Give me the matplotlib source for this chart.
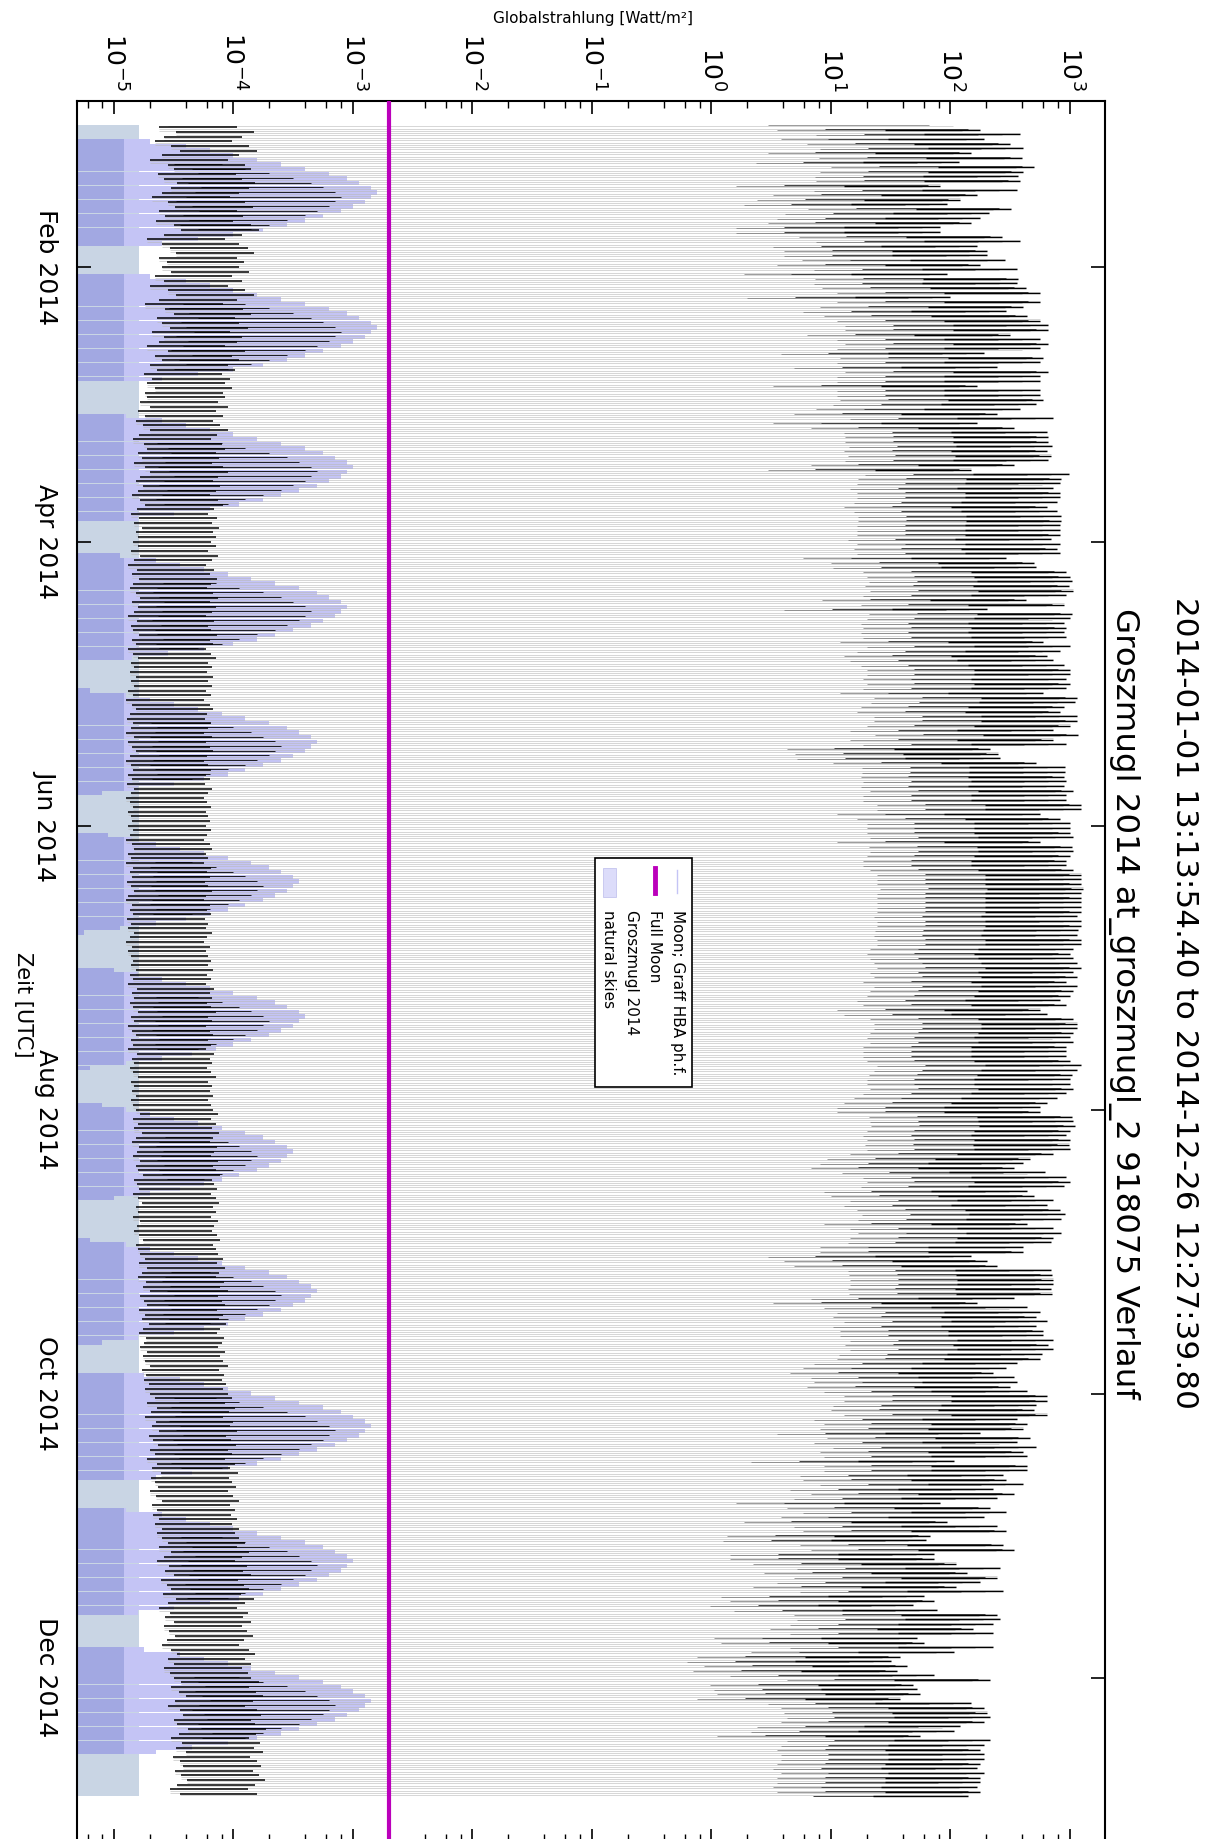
import numpy as np
import pandas as pd
import matplotlib
matplotlib.use("Agg")
import matplotlib.pyplot as plt
import matplotlib.dates as mdates
from matplotlib.collections import LineCollection, PolyCollection
from matplotlib.patches import Rectangle
from matplotlib.lines import Line2D
from matplotlib.ticker import FixedLocator, LogFormatterSciNotation, NullFormatter

# ---- texts -------------------------------------------------------------
title = "Groszmugl 2014 at_groszmugl_2 918075 Verlauf"
subtitle = "2014-01-01 13:13:54.40 to 2014-12-26 12:27:39.80"
x_label = "Globalstrahlung [Watt/m²]"
y_label = "Zeit [UTC]"
legend_labels = ["Moon; Graff HBA ph.f.", "Full Moon", "Groszmugl 2014", "natural skies"]

# ---- data --------------------------------------------------------------
days = pd.date_range("2014-01-01", periods=360, freq="D")
first_sample = pd.Timestamp("2014-01-01 13:13:54.40")
last_sample = pd.Timestamp("2014-12-26 12:27:39.80")

# daily maximum of global radiation, log10(W/m²)
peak_log = [
    2.17, 2.25, 2.58, 2.28, 2.50, 2.61, 2.17, 2.60, 2.07, 2.70,
    2.61, 2.57, 2.58, 1.91, 2.56, 2.22, 2.08, 1.97, 2.51, 2.32,
    2.25, 2.17, 1.91, 1.91, 2.43, 2.58, 2.22, 2.31, 2.31, 2.46,
    2.25, 2.56, 1.97, 2.57, 2.56, 2.63, 2.75, 2.00, 2.75, 2.61,
    2.47, 2.64, 2.75, 2.82, 2.82, 2.50, 2.75, 2.82, 2.75, 2.28,
    2.78, 2.75, 2.39, 2.82, 2.75, 2.75, 2.22, 2.75, 2.75, 2.78,
    2.72, 2.58, 2.39, 2.86, 2.22, 2.53, 2.81, 2.82, 2.82, 2.85,
    2.81, 2.84, 2.82, 2.53, 2.17, 2.99, 2.93, 2.92, 2.86, 2.92,
    2.92, 2.89, 2.81, 2.89, 2.93, 2.93, 2.92, 2.92, 2.92, 2.84,
    2.92, 2.89, 2.92, 2.47, 2.70, 2.72, 2.97, 3.00, 3.02, 2.99,
    3.03, 2.97, 2.63, 2.95, 2.31, 3.02, 3.00, 2.95, 2.97, 2.95,
    2.97, 2.78, 3.00, 2.92, 2.81, 2.86, 2.95, 3.00, 3.00, 2.97,
    3.00, 2.97, 2.78, 3.06, 3.04, 2.95, 2.92, 3.06, 3.06, 3.00,
    2.86, 3.07, 2.86, 2.97, 2.33, 2.40, 2.42, 2.72, 2.96, 2.96,
    2.95, 2.97, 2.95, 3.03, 2.97, 2.97, 3.09, 3.09, 2.75, 2.92,
    3.00, 3.00, 3.00, 3.03, 2.75, 3.02, 3.03, 3.00, 2.97, 2.97,
    3.03, 3.09, 3.09, 3.09, 3.11, 3.09, 3.09, 3.09, 3.09, 3.09,
    3.06, 3.09, 3.09, 3.07, 3.06, 3.09, 3.09, 3.03, 3.00, 3.03,
    3.06, 3.09, 3.03, 3.06, 2.97, 3.06, 3.03, 3.00, 2.92, 2.97,
    2.75, 2.81, 3.03, 3.06, 3.06, 3.03, 3.00, 3.03, 2.97, 2.97,
    2.97, 3.00, 3.09, 3.06, 3.02, 3.00, 3.00, 3.03, 2.97, 2.89,
    2.81, 2.75, 2.75, 3.02, 3.03, 3.04, 3.00, 2.97, 3.00, 2.99,
    3.00, 2.86, 2.67, 2.61, 2.53, 2.79, 2.97, 3.00, 2.95, 2.64,
    2.70, 2.86, 2.81, 2.92, 2.96, 2.93, 2.64, 2.86, 2.93, 2.86,
    2.84, 2.61, 2.61, 2.17, 2.31, 2.39, 2.84, 2.85, 2.86, 2.86,
    2.84, 2.85, 2.53, 2.22, 2.64, 2.75, 2.72, 2.81, 2.72, 2.78,
    2.78, 2.86, 2.82, 2.86, 2.77, 2.75, 2.56, 2.47, 2.36, 2.53,
    2.56, 2.50, 2.64, 2.81, 2.81, 2.72, 2.70, 2.81, 2.56, 2.64,
    2.61, 2.25, 2.67, 2.56, 2.72, 2.61, 2.64, 2.03, 2.64, 2.64,
    2.44, 2.47, 2.61, 2.36, 2.53, 2.39, 1.91, 2.33, 2.47, 2.28,
    1.97, 2.39, 2.47, 1.83, 1.80, 2.44, 2.53, 1.86, 1.86, 2.05,
    2.42, 2.14, 2.39, 2.25, 2.05, 2.44, 1.78, 1.86, 1.69, 1.89,
    2.39, 2.42, 2.36, 2.19, 2.36, 1.72, 1.78, 2.36, 2.03, 1.58,
    1.50, 1.64, 1.55, 1.86, 2.33, 1.69, 1.72, 1.75, 1.58, 2.17,
    2.28, 2.31, 2.33, 2.28, 2.08, 2.03, 1.75, 2.33, 2.28, 2.25,
    2.28, 2.28, 2.25, 2.22, 2.28, 2.25, 2.25, 2.22, 2.25, 2.15,
]

# night-time minimum of the sensor, log10(W/m²)
night_log = [
    # Jan
    -4.55, -4.62, -4.48, -4.58, -4.66, -4.52, -4.45, -4.60, -4.70, -4.55,
    -4.50, -4.63, -4.58, -4.47, -4.52, -4.60, -4.68, -4.55, -4.49, -4.62,
    -4.57, -4.65, -4.50, -4.44, -4.58, -4.72, -4.60, -4.53, -4.48, -4.62,
    -4.56,
    # Feb
    -4.60, -4.52, -4.66, -4.58, -4.70, -4.55, -4.48, -4.62, -4.74, -4.57,
    -4.50, -4.64, -4.60, -4.53, -4.68, -4.58, -4.62, -4.72, -4.55, -4.66,
    -4.60, -4.70, -4.64, -4.75, -4.68, -4.72, -4.66, -4.74,
    # Mar
    -4.72, -4.78, -4.70, -4.80, -4.74, -4.82, -4.76, -4.70, -4.79, -4.84,
    -4.75, -4.72, -4.80, -4.77, -4.83, -4.74, -4.70, -4.78, -4.82, -4.76,
    -4.80, -4.85, -4.78, -4.74, -4.81, -4.86, -4.79, -4.83, -4.77, -4.82,
    -4.80,
    # Apr
    -4.84, -4.80, -4.86, -4.78, -4.83, -4.88, -4.81, -4.85, -4.79, -4.84,
    -4.87, -4.82, -4.78, -4.85, -4.80, -4.83, -4.88, -4.81, -4.86, -4.84,
    -4.79, -4.85, -4.82, -4.88, -4.84, -4.80, -4.86, -4.83, -4.87, -4.82,
    # May
    -4.86, -4.83, -4.88, -4.84, -4.90, -4.85, -4.82, -4.87, -4.89, -4.84,
    -4.86, -4.90, -4.83, -4.88, -4.85, -4.82, -4.87, -4.90, -4.86, -4.84,
    -4.88, -4.85, -4.89, -4.83, -4.86, -4.90, -4.87, -4.84, -4.88, -4.86,
    -4.85,
    # Jun
    -4.88, -4.84, -4.87, -4.90, -4.85, -4.83, -4.88, -4.86, -4.90, -4.84,
    -4.87, -4.85, -4.89, -4.86, -4.83, -4.88, -4.90, -4.85, -4.87, -4.84,
    -4.89, -4.86, -4.88, -4.83, -4.87, -4.90, -4.85, -4.88, -4.86, -4.84,
    # Jul
    -4.86, -4.82, -4.87, -4.84, -4.88, -4.81, -4.85, -4.83, -4.87, -4.84,
    -4.80, -4.86, -4.83, -4.88, -4.85, -4.82, -4.86, -4.84, -4.88, -4.81,
    -4.85, -4.83, -4.87, -4.84, -4.80, -4.86, -4.83, -4.85, -4.82, -4.86,
    -4.84,
    # Aug
    -4.82, -4.78, -4.84, -4.80, -4.83, -4.77, -4.82, -4.85, -4.79, -4.81,
    -4.84, -4.78, -4.82, -4.80, -4.76, -4.83, -4.81, -4.79, -4.84, -4.80,
    -4.77, -4.82, -4.80, -4.84, -4.78, -4.81, -4.83, -4.79, -4.76, -4.82,
    -4.80,
    # Sep
    -4.78, -4.74, -4.79, -4.72, -4.77, -4.80, -4.73, -4.76, -4.70, -4.78,
    -4.75, -4.72, -4.79, -4.74, -4.77, -4.71, -4.76, -4.79, -4.73, -4.75,
    -4.78, -4.72, -4.76, -4.74, -4.70, -4.77, -4.73, -4.75, -4.71, -4.74,
    # Oct
    -4.70, -4.66, -4.72, -4.64, -4.69, -4.74, -4.65, -4.68, -4.62, -4.71,
    -4.67, -4.63, -4.70, -4.66, -4.72, -4.64, -4.68, -4.61, -4.69, -4.66,
    -4.63, -4.70, -4.65, -4.60, -4.68, -4.64, -4.67, -4.62, -4.66, -4.60,
    -4.64,
    # Nov
    -4.60, -4.55, -4.62, -4.52, -4.58, -4.64, -4.54, -4.57, -4.50, -4.61,
    -4.56, -4.52, -4.59, -4.48, -4.55, -4.62, -4.53, -4.57, -4.50, -4.58,
    -4.54, -4.49, -4.56, -4.60, -4.52, -4.47, -4.55, -4.50, -4.58, -4.53,
    # Dec
    -4.50, -4.44, -4.52, -4.46, -4.40, -4.49, -4.55, -4.45, -4.42, -4.50,
    -4.47, -4.38, -4.46, -4.52, -4.43, -4.48, -4.40, -4.51, -4.45, -4.42,
    -4.49, -4.44, -4.39, -4.47, -4.53, -4.45,
]

# nightly maximum of the modelled moon irradiance, log10(W/m²)
moon_log = [
    None, None, None, None, -4.70, -4.40, -4.20, -4.00, -3.80, -3.60,
    -3.40, -3.20, -3.05, -2.95, -2.85, -2.80, -2.85, -2.90, -3.00, -3.10,
    -3.25, -3.40, -3.55, -3.75, -4.00, -4.30, -4.60, None, None, None,
    None, None, None, -4.70, -4.40, -4.20, -4.00, -3.80, -3.60, -3.40,
    -3.20, -3.05, -2.95, -2.85, -2.80, -2.85, -2.90, -3.00, -3.10, -3.25,
    -3.40, -3.55, -3.75, -4.00, -4.30, -4.60, None, None, None, None,
    None, None, None, -4.90, -4.60, -4.40, -4.20, -4.00, -3.80, -3.60,
    -3.40, -3.25, -3.15, -3.05, -3.00, -3.05, -3.10, -3.20, -3.30, -3.45,
    -3.60, -3.75, -3.95, -4.20, -4.50, -4.80, None, None, None, None,
    None, None, None, -4.95, -4.65, -4.45, -4.25, -4.05, -3.85, -3.65,
    -3.45, -3.30, -3.20, -3.10, -3.05, -3.10, -3.15, -3.25, -3.35, -3.50,
    -3.65, -3.80, -4.00, -4.25, -4.55, -4.85, None, None, None, None,
    None, None, -5.20, -4.90, -4.70, -4.50, -4.30, -4.10, -3.90, -3.70,
    -3.55, -3.45, -3.35, -3.30, -3.35, -3.40, -3.50, -3.60, -3.75, -3.90,
    -4.05, -4.25, -4.50, -4.80, -5.10, None, None, None, None, None,
    None, None, -5.35, -5.05, -4.85, -4.65, -4.45, -4.25, -4.05, -3.85,
    -3.70, -3.60, -3.50, -3.45, -3.50, -3.55, -3.65, -3.75, -3.90, -4.05,
    -4.20, -4.40, -4.65, -4.95, -5.25, None, None, None, None, None,
    None, -5.30, -5.00, -4.80, -4.60, -4.40, -4.20, -4.00, -3.80, -3.65,
    -3.55, -3.45, -3.40, -3.45, -3.50, -3.60, -3.70, -3.85, -4.00, -4.15,
    -4.35, -4.60, -4.90, -5.20, None, None, None, None, None, None,
    -5.40, -5.10, -4.90, -4.70, -4.50, -4.30, -4.10, -3.90, -3.75, -3.65,
    -3.55, -3.50, -3.55, -3.60, -3.70, -3.80, -3.95, -4.10, -4.25, -4.45,
    -4.70, -5.00, -5.30, None, None, None, None, None, None, None,
    -5.20, -4.90, -4.70, -4.50, -4.30, -4.10, -3.90, -3.70, -3.55, -3.45,
    -3.35, -3.30, -3.35, -3.40, -3.50, -3.60, -3.75, -3.90, -4.05, -4.25,
    -4.50, -4.80, -5.10, None, None, None, None, None, None, -4.75,
    -4.45, -4.25, -4.05, -3.85, -3.65, -3.45, -3.25, -3.10, -3.00, -2.90,
    -2.85, -2.90, -2.95, -3.05, -3.15, -3.30, -3.45, -3.60, -3.80, -4.05,
    -4.35, -4.65, None, None, None, None, None, None, -4.90, -4.60,
    -4.40, -4.20, -4.00, -3.80, -3.60, -3.40, -3.25, -3.15, -3.05, -3.00,
    -3.05, -3.10, -3.20, -3.30, -3.45, -3.60, -3.75, -3.95, -4.20, -4.50,
    -4.80, None, None, None, None, None, None, None, -4.75, -4.45,
    -4.25, -4.05, -3.85, -3.65, -3.45, -3.25, -3.10, -3.00, -2.90, -2.85,
    -2.90, -2.95, -3.05, -3.15, -3.30, -3.45, -3.60, -3.80, -4.05, -4.35,
    -4.65, None, None, None, None, None, None, None, None, None,
]

full_moon_level = 2e-3          # W/m²
natural_sky_level = 10 ** -4.79  # W/m²
moon_shadow_level = 10 ** -4.92  # W/m², overlap of moon trace at the left edge

# ---- colours -----------------------------------------------------------
moon_color = "#c4c4f5"
moon_dark = "#a2a8e2"
sky_color = "#c9d5e4"
full_moon_color = "#bb00bb"

# ---- figure ------------------------------------------------------------
W, H = 1220, 1839
fig = plt.figure(figsize=(W / 100, H / 100), dpi=100)


def fx(px):
    return px / W


def fy(py):
    return 1 - py / H


ax_left, ax_right, ax_top, ax_bottom = 77, 1105, 101, 1841
ax = fig.add_axes([fx(ax_left), fy(ax_bottom), fx(ax_right - ax_left),
                   (ax_bottom - ax_top) / H])
ax.set_xscale("log")
xmin, xmax = 10 ** -5.31, 10 ** 3.295
ax.set_xlim(xmin, xmax)

t0 = mdates.date2num(days.to_pydatetime())
t_first = mdates.date2num(first_sample.to_pydatetime())
t_last = mdates.date2num(last_sample.to_pydatetime())
ax.set_ylim(t0[0] + 369.1, t0[0] - 4.66)

peak = np.array(peak_log)
night = np.array(night_log)
moon = np.array([np.nan if v is None else v for v in moon_log])


def clip_t(a):
    return np.clip(a, t_first, t_last)


# natural skies band
ax.fill_betweenx([t_first, t_last], xmin, natural_sky_level,
                 color=sky_color, lw=0, zorder=1)

# moon: one bar per night from the left edge to the nightly moon level
moon_polys, moon_dark_polys = [], []
for k in range(len(days)):
    if np.isnan(moon[k]):
        continue
    ya, yb = clip_t(t0[k] - 0.48), clip_t(t0[k] + 0.48)
    if yb <= ya:
        continue
    xr = 10 ** moon[k]
    moon_polys.append([(xmin, ya), (xr, ya), (xr, yb), (xmin, yb)])
    xd = min(xr, moon_shadow_level)
    moon_dark_polys.append([(xmin, ya), (xd, ya), (xd, yb), (xmin, yb)])
ax.add_collection(PolyCollection(moon_polys, facecolors=moon_color,
                                 edgecolors="none", zorder=2))
ax.add_collection(PolyCollection(moon_dark_polys, facecolors=moon_dark,
                                 edgecolors="none", zorder=2))

# measurement traces
gray_segs, day_segs, day2_segs, day3_segs = [], [], [], []
night_segs, moonlit_segs = [], []


def add(seglist, y, xa, xb):
    if t_first <= y <= t_last:
        seglist.append([(xa, y), (xb, y)])


for k in range(len(days)):
    lo = 10 ** night[k]
    top = 10 ** peak[k]
    add(gray_segs, t0[k] + 0.27, lo, top)
    add(gray_segs, t0[k] + 0.72, lo, 10 ** (peak[k] - 0.15))
    add(day_segs, t0[k] + 0.5, 10 ** (peak[k] - 0.8), top)
    add(day2_segs, t0[k] + 0.4, 10 ** (peak[k] - 1.3), 10 ** (peak[k] - 0.1))
    add(day3_segs, t0[k] + 0.6, 10 ** (peak[k] - 1.7), 10 ** (peak[k] - 0.35))
    add(night_segs, t0[k] + 0.02, lo, 10 ** (night[k] + 0.65))
    if not np.isnan(moon[k]) and moon[k] - 0.3 > night[k] + 0.5:
        add(moonlit_segs, t0[k] + 0.9, 10 ** (night[k] + 0.2),
            10 ** (moon[k] - 0.3))

ax.add_collection(LineCollection(gray_segs, colors="0.72", linewidths=0.4,
                                 zorder=3))
ax.add_collection(LineCollection(day3_segs, colors="0.45", linewidths=0.5,
                                 zorder=4))
ax.add_collection(LineCollection(day2_segs, colors="0.25", linewidths=0.7,
                                 zorder=4))
ax.add_collection(LineCollection(day_segs, colors="black", linewidths=1.0,
                                 zorder=4))
ax.add_collection(LineCollection(night_segs, colors="black", linewidths=1.1,
                                 zorder=4))
ax.add_collection(LineCollection(moonlit_segs, colors="black", linewidths=0.6,
                                 zorder=4))

# full moon reference level
ax.axvline(full_moon_level, color=full_moon_color, lw=3.0, zorder=5)

# ---- axes styling ------------------------------------------------------
for s in ax.spines.values():
    s.set_linewidth(1.5)

major_x = [10.0 ** e for e in range(-5, 4)]
minor_x = [m * 10.0 ** e for e in range(-6, 4) for m in (2, 4, 6, 8)
           if xmin <= m * 10.0 ** e <= xmax]
ax.xaxis.set_major_locator(FixedLocator(major_x))
ax.xaxis.set_minor_locator(FixedLocator(minor_x))
ax.xaxis.set_major_formatter(LogFormatterSciNotation())
ax.xaxis.set_minor_formatter(NullFormatter())
ax.tick_params(axis="x", which="both", direction="in", top=True, bottom=True,
               labeltop=True, labelbottom=False)
ax.tick_params(axis="x", which="major", length=9, width=1.2, labelsize=18,
               pad=7, labelrotation=-90)
ax.tick_params(axis="x", which="minor", length=5, width=1.0)

ax.yaxis.set_major_locator(mdates.MonthLocator(bymonth=[2, 4, 6, 8, 10, 12]))
ax.yaxis.set_major_formatter(mdates.DateFormatter("%b %Y"))
ax.tick_params(axis="y", which="major", direction="in", left=True, right=True,
               length=10, width=1.2, labelsize=18, pad=14, labelrotation=-90)
for lab in ax.get_yticklabels():
    lab.set_verticalalignment("center")

fig.text(fx(593), fy(18), x_label, ha="center", va="center", fontsize=11)
fig.text(fx(23), fy(1005), y_label, rotation=-90, ha="center", va="center",
         fontsize=15)
fig.text(fx(1124), fy(1003), title, rotation=-90, ha="center", va="center",
         fontsize=23.4)
fig.text(fx(1185), fy(1003), subtitle, rotation=-90, ha="center", va="center",
         fontsize=22.4)

# ---- legend (drawn upright for the rotated layout) -----------------------
fig.add_artist(Rectangle((fx(595), fy(1087)), fx(692 - 595), (1087 - 858) / H,
                         transform=fig.transFigure, facecolor="white",
                         edgecolor="black", lw=1.2, zorder=10))
cols = [677, 655, 632, 608]
fig.add_artist(Line2D([fx(cols[0])] * 2, [fy(870), fy(893)],
                      transform=fig.transFigure, color=moon_color, lw=1.0,
                      zorder=11))
fig.add_artist(Line2D([fx(cols[1])] * 2, [fy(868), fy(893)],
                      transform=fig.transFigure, color=full_moon_color, lw=3.5,
                      zorder=11))
fig.add_artist(Rectangle((fx(603), fy(897)), fx(13), 29 / H,
                         transform=fig.transFigure, facecolor="#dcdcfa",
                         edgecolor="#c4c4ee", lw=0.6, zorder=11))
for xc, lab in zip(cols, legend_labels):
    fig.text(fx(xc), fy(910), lab, rotation=-90, ha="center", va="top",
             fontsize=11, zorder=12)

fig.savefig("out.png", dpi=100)
